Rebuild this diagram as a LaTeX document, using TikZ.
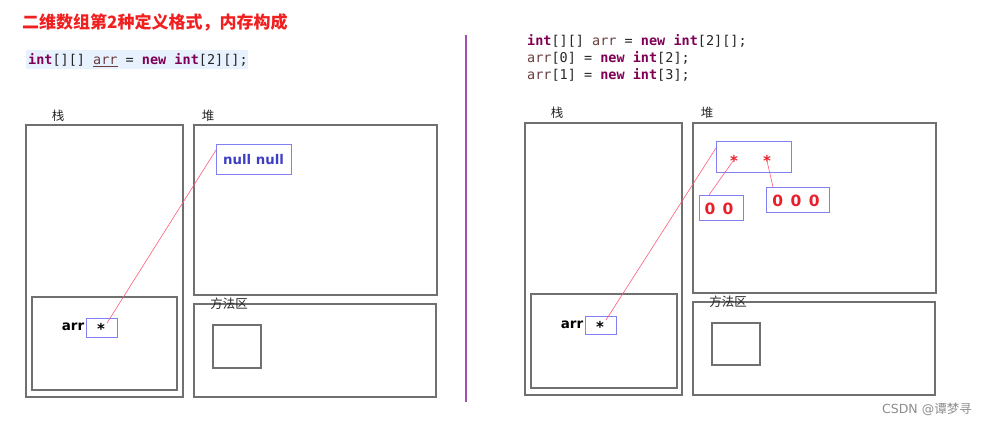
\documentclass[tikz,border=0pt]{standalone}
\usepackage{fontspec}
\setmainfont{DejaVu Sans}
\newfontfamily\cjk{Noto Sans CJK SC}
\newfontfamily\codefont{DejaVu Sans Mono}
\usetikzlibrary{calc}
\definecolor{kw}{HTML}{7F0055}
\definecolor{var}{HTML}{6A3E3E}
\definecolor{codebg}{HTML}{E8F2FE}
\definecolor{boxgray}{HTML}{707070}
\definecolor{ptrblue}{HTML}{8080F0}
\definecolor{linkred}{HTML}{FF5C7A}
\definecolor{titlered}{HTML}{F02020}
\definecolor{divcol}{HTML}{A050B0}
\definecolor{valred}{HTML}{E8202A}
\newcommand{\kwd}[1]{\textcolor{kw}{\bfseries #1}}
\newcommand{\vr}[1]{\textcolor{var}{#1}}
\begin{document}
\begin{tikzpicture}[x=1pt,y=-1pt,
  region/.style={draw=boxgray, line width=1.1pt, inner sep=0pt},
  ptrbox/.style={draw=ptrblue, line width=1pt, inner sep=0pt},
  link/.style={draw=linkred, line width=0.6pt},
  cjklabel/.style={font=\cjk\fontsize{12.5}{14}\selectfont, inner sep=0pt, text=black!85},
  codetxt/.style={font=\codefont\fontsize{13.5}{17}\selectfont, anchor=west, inner sep=0pt, text=black!85},
  boldtxt/.style={font=\bfseries\fontsize{13.5}{15}\selectfont, inner sep=0pt},
  valtxt/.style={font=\bfseries\fontsize{15.5}{17}\selectfont, text=valred, inner sep=0pt},
  startxt/.style={font=\bfseries\fontsize{15}{16}\selectfont, inner sep=0pt}
]
\useasboundingbox (0,0) rectangle (988,425);

% title
\node[anchor=west, inner sep=0pt, font=\cjk\bfseries\fontsize{17}{19}\selectfont, text=titlered] (title) at (22,22) {二维数组第2种定义格式，内存构成};

% ---------------- left panel ----------------
\node[fill=codebg, minimum width=222pt, minimum height=19pt, inner sep=0pt] (codebgL) at (137,59.5) {};
\node[codetxt] (codeL) at (28,60) {\kwd{int}[][] \textcolor{var}{\underline{arr}} = \kwd{new} \kwd{int}[2][];};

\node[cjklabel] (zhanL) at (58,116) {栈};
\node[cjklabel] (duiL) at (208,116) {堆};

\node[region, minimum width=157pt, minimum height=272pt] (stackL) at (104.5,261) {};
\node[region, minimum width=145pt, minimum height=93pt] (frameL) at (104.5,343.5) {};
\node[ptrbox, minimum width=31pt, minimum height=19pt] (ptrL) at (101.5,327.5) {};
\node[startxt] (starL) at (101,329) {*};
\node[boldtxt, anchor=east] (arrL) at (84.5,327) {arr};

\node[region, minimum width=243pt, minimum height=170pt] (heapL) at (315.5,210) {};
\node[ptrbox, minimum width=75pt, minimum height=29pt, font=\bfseries\fontsize{13.3}{15}\selectfont, text=ptrblue!60!blue!80!black] (nullL) at (253.5,159.5) {null null};

\node[region, minimum width=242pt, minimum height=93pt] (methL) at (315,350.5) {};
\node[region, minimum width=48pt, minimum height=43pt] (sqL) at (237,346.5) {};
\node[cjklabel] (fangL) at (229,304) {方法区};

\coordinate (lkL1) at (107,323);
\coordinate (lkL2) at (216,150);
\draw[link] (lkL1) -- (lkL2);

% divider
\coordinate (div1) at (466,35);
\coordinate (div2) at (466,402);
\draw[divcol, line width=2pt] (div1) -- (div2);

% ---------------- right panel ----------------
\node[codetxt] (codeR1) at (527,41) {\kwd{int}[][] \vr{arr} = \kwd{new} \kwd{int}[2][];};
\node[codetxt] (codeR2) at (527,58) {\vr{arr}[0] = \kwd{new} \kwd{int}[2];};
\node[codetxt] (codeR3) at (527,75) {\vr{arr}[1] = \kwd{new} \kwd{int}[3];};

\node[cjklabel] (zhanR) at (557,113) {栈};
\node[cjklabel] (duiR) at (707,113) {堆};

\node[region, minimum width=157pt, minimum height=272pt] (stackR) at (603.5,259) {};
\node[region, minimum width=146pt, minimum height=94pt] (frameR) at (604,341) {};
\node[ptrbox, minimum width=31pt, minimum height=18pt] (ptrR) at (600.5,325) {};
\node[startxt] (starR) at (600,327) {*};
\node[boldtxt, anchor=east] (arrR) at (583.5,325) {arr};

\node[region, minimum width=243pt, minimum height=170pt] (heapR) at (814.5,208) {};
\node[ptrbox, minimum width=75pt, minimum height=30pt] (arrBox) at (753.5,157) {};
\node[startxt, text=valred] (s1) at (734,161) {*};
\node[startxt, text=valred] (s2) at (767,161) {*};
\node[ptrbox, minimum width=44pt, minimum height=25pt] (zz) at (721,207.5) {};
\node[valtxt] (zzt) at (719,209) {0\hspace{2pt} 0};
\node[ptrbox, minimum width=63pt, minimum height=25pt] (zzz) at (797.5,199.5) {};
\node[valtxt] (zzzt) at (796,201) {0\hspace{2pt} 0\hspace{2pt} 0};

\node[region, minimum width=242pt, minimum height=93pt] (methR) at (814,348.5) {};
\node[region, minimum width=48pt, minimum height=42pt] (sqR) at (736,344) {};
\node[cjklabel] (fangR) at (728,302) {方法区};

\coordinate (lkR1) at (606,320);
\coordinate (lkR2) at (716,148);
\draw[link] (lkR1) -- (lkR2);
\coordinate (lkA1) at (733,161);
\coordinate (lkA2) at (709,195);
\draw[link] (lkA1) -- (lkA2);
\coordinate (lkB1) at (767,161);
\coordinate (lkB2) at (773,187);
\draw[link] (lkB1) -- (lkB2);

% watermark
\node[anchor=east, inner sep=0pt, text=black!45, font=\fontsize{12.5}{14}\selectfont] (wm) at (972,409) {CSDN @{\cjk 谭梦寻}};
\end{tikzpicture}
\end{document}
